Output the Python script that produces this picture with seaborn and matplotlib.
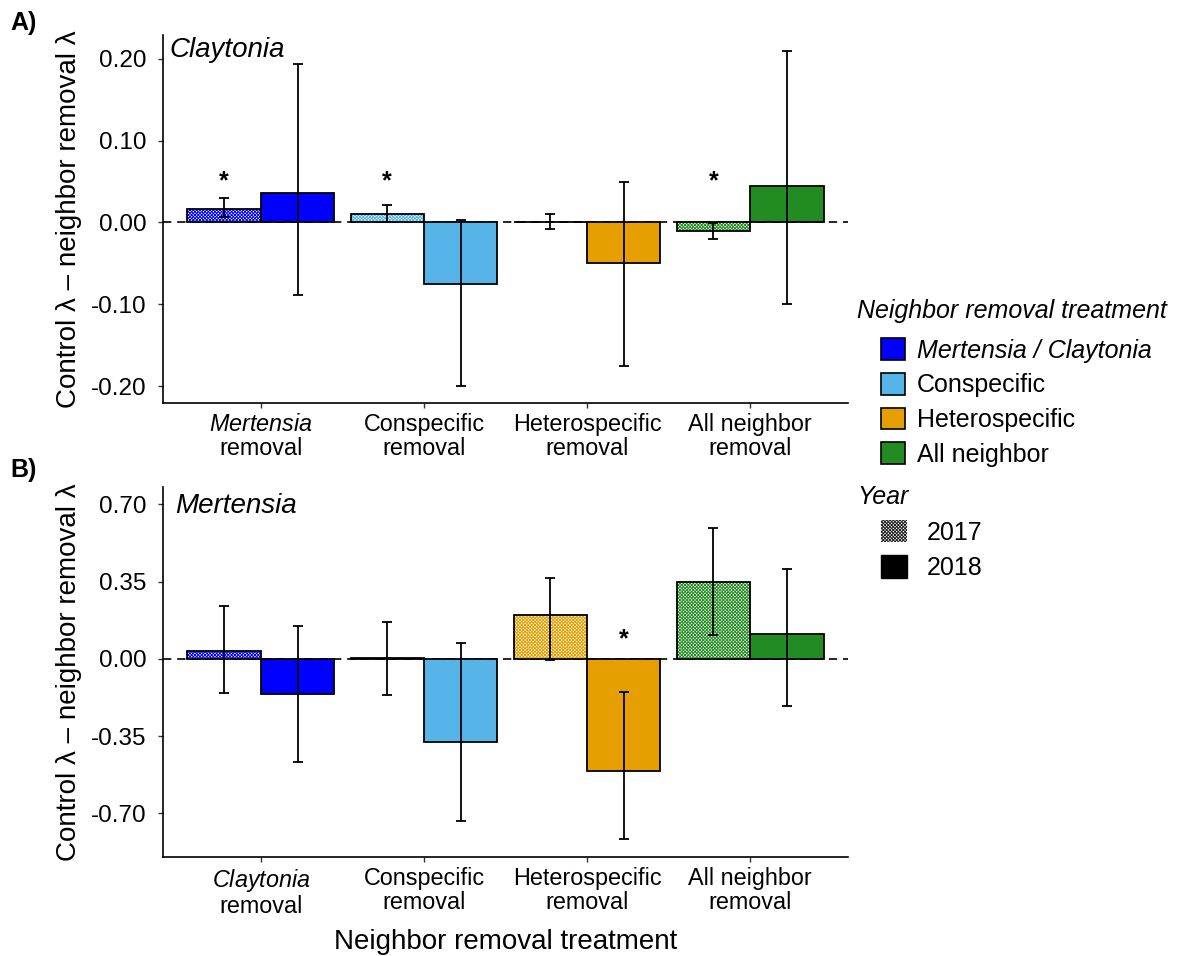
import numpy as np
import pandas as pd
import matplotlib
matplotlib.use("Agg")
import matplotlib.pyplot as plt
from matplotlib.patches import Patch, Rectangle
import seaborn as sns

# ---- data -------------------------------------------------------------
treatments = ["T1", "T2", "T3", "T4"]
years = ["2017", "2018"]
colors = ["#0000FF", "#56B4E9", "#E69F00", "#228B22"]

ticks_A = ["$\\mathit{Mertensia}$\nremoval", "Conspecific\nremoval",
           "Heterospecific\nremoval", "All neighbor\nremoval"]
ticks_B = ["$\\mathit{Claytonia}$\nremoval", "Conspecific\nremoval",
           "Heterospecific\nremoval", "All neighbor\nremoval"]

# Claytonia (panel A)
A_2017 = [0.017, 0.010, 0.001, -0.010]
A_2017_lo = [0.007, 0.001, -0.008, -0.020]
A_2017_hi = [0.030, 0.021, 0.010, -0.001]
A_2018 = [0.036, -0.075, -0.050, 0.045]
A_2018_lo = [-0.088, -0.200, -0.175, -0.099]
A_2018_hi = [0.193, 0.003, 0.049, 0.209]
A_sig_2017 = [True, True, False, True]
A_sig_2018 = [False, False, False, False]
A_star_y = 0.05

# Mertensia (panel B)
B_2017 = [0.036, 0.005, 0.198, 0.347]
B_2017_lo = [-0.155, -0.163, -0.006, 0.106]
B_2017_hi = [0.240, 0.169, 0.367, 0.593]
B_2018 = [-0.157, -0.376, -0.510, 0.112]
B_2018_lo = [-0.468, -0.736, -0.815, -0.213]
B_2018_hi = [0.149, 0.071, -0.149, 0.409]
B_sig_2017 = [False, False, False, False]
B_sig_2018 = [False, False, True, False]
B_star_y = 0.09

yticks_A = [-0.20, -0.10, 0.00, 0.10, 0.20]
yticks_B = [-0.70, -0.35, 0.00, 0.35, 0.70]

# ---- style ------------------------------------------------------------
sns.set_style("white")
plt.rcParams["font.family"] = ["Liberation Sans", "DejaVu Sans"]
plt.rcParams["mathtext.fontset"] = "custom"
plt.rcParams["mathtext.rm"] = "Liberation Sans"
plt.rcParams["mathtext.it"] = "Liberation Sans:italic"
plt.rcParams["hatch.linewidth"] = 0.7
plt.rcParams["text.color"] = "black"
plt.rcParams["axes.labelcolor"] = "black"
plt.rcParams["xtick.color"] = "black"
plt.rcParams["ytick.color"] = "black"

W, H = 1181, 956
fig = plt.figure(figsize=(W / 100, H / 100), dpi=100)


def fx(px):
    return px / W


def fy(py):
    return 1 - py / H


axA = fig.add_axes([fx(163), fy(403), fx(848) - fx(163), fy(35) - fy(403)])
axB = fig.add_axes([fx(163), fy(857), fx(848) - fx(163), fy(487) - fy(857)])

HATCH = "x" * 10


def panel(ax, v17, lo17, hi17, v18, lo18, hi18, sig17, sig18, star_y,
          ticklabels, yticks, ylim, title, title_xy):
    df = pd.DataFrame({
        "treatment": treatments * 2,
        "year": [years[0]] * 4 + [years[1]] * 4,
        "value": list(v17) + list(v18),
    })
    sns.barplot(data=df, x="treatment", y="value", hue="year",
                order=treatments, hue_order=years, errorbar=None,
                width=0.9, gap=0, legend=False, ax=ax, zorder=2)

    ax.axhline(0, color="black", lw=1.2, ls=(0, (5, 3.5)), zorder=1)

    stats = [(v17, lo17, hi17, sig17), (v18, lo18, hi18, sig18)]
    bar_groups = list(ax.containers)
    for k, cont in enumerate(bar_groups):
        vals, lo, hi, sig = stats[k]
        xs = []
        for i, p in enumerate(cont.patches):
            c = colors[i]
            if k == 0:
                # hatched 2017 bars: coloured pattern, black outline on top
                p.set_facecolor("white")
                p.set_edgecolor(c)
                p.set_hatch(HATCH)
                p.set_linewidth(0)
                ax.add_patch(Rectangle((p.get_x(), p.get_y()), p.get_width(),
                                       p.get_height(), fill=False,
                                       ec="black", lw=1.3, zorder=3))
            else:
                p.set_facecolor(c)
                p.set_edgecolor("black")
                p.set_linewidth(1.3)
            xs.append(p.get_x() + p.get_width() / 2)
        xs = np.array(xs)
        vals = np.array(vals)
        yerr = [vals - np.array(lo), np.array(hi) - vals]
        ax.errorbar(xs, vals, yerr=yerr, fmt="none", ecolor="black",
                    elinewidth=1.3, capsize=3.5, capthick=1.3, zorder=4)
        for x, s in zip(xs, sig):
            if s:
                ax.text(x, star_y, "*", ha="center", va="center",
                        fontsize=18, fontweight="bold", zorder=5)

    ax.set_xlim(-0.6, 3.6)
    ax.set_ylim(*ylim)
    ax.set_yticks(yticks)
    ax.set_yticklabels([f"{t:.2f}" for t in yticks], fontsize=17.5)
    ax.set_xticks(range(len(treatments)))
    ax.set_xticklabels(ticklabels, fontsize=16.8)
    for t in ax.get_xticklabels():
        t.set_linespacing(1.05)
    ax.set_xlabel("")
    ax.set_ylabel("Control λ – neighbor removal λ", fontsize=20, labelpad=6)
    for side in ["top", "right"]:
        ax.spines[side].set_visible(False)
    for side in ["left", "bottom"]:
        ax.spines[side].set_color("black")
        ax.spines[side].set_linewidth(1.2)
    ax.tick_params(axis="both", length=3.5, width=1, color="#333333",
                   direction="out", left=True, bottom=True)
    ax.tick_params(axis="y", pad=8.5)
    ax.tick_params(axis="x", pad=4)
    ax.text(title_xy[0], title_xy[1], title, transform=ax.transAxes,
            fontsize=20, fontstyle="italic", ha="left", va="top")


panel(axA, A_2017, A_2017_lo, A_2017_hi, A_2018, A_2018_lo, A_2018_hi,
      A_sig_2017, A_sig_2018, A_star_y, ticks_A, yticks_A,
      (-0.2205, 0.229), "Claytonia", (0.010, 0.995))
panel(axB, B_2017, B_2017_lo, B_2017_hi, B_2018, B_2018_lo, B_2018_hi,
      B_sig_2017, B_sig_2018, B_star_y, ticks_B, yticks_B,
      (-0.898, 0.779), "Mertensia", (0.018, 0.985))

axB.set_xlabel("Neighbor removal treatment", fontsize=20, labelpad=8)

fig.text(fx(10), fy(11), "A)", fontsize=18, fontweight="bold", va="top")
fig.text(fx(10), fy(458), "B)", fontsize=18, fontweight="bold", va="top")

# ---- legends ----------------------------------------------------------
leg_labels = ["Mertensia / Claytonia", "Conspecific", "Heterospecific",
              "All neighbor"]
fig.text(fx(857), fy(311), "Neighbor removal treatment", fontsize=18,
         fontstyle="italic", va="center", ha="left")
h1 = [Patch(facecolor=c, edgecolor="black", lw=1.2) for c in colors]
leg1 = fig.legend(h1, leg_labels, loc="upper left",
                  bbox_to_anchor=(fx(881), fy(338)), frameon=False,
                  fontsize=18, borderpad=0, borderaxespad=0,
                  handlelength=0.95, handleheight=0.97, handletextpad=0.5,
                  labelspacing=0.41)
leg1.get_texts()[0].set_fontstyle("italic")

fig.text(fx(857), fy(497), "Year", fontsize=18, fontstyle="italic",
         va="center", ha="left")
h2 = [Patch(facecolor="white", edgecolor="#222222", hatch=HATCH, lw=0),
      Patch(facecolor="black", edgecolor="black", lw=1)]
leg2 = fig.legend(h2, years, loc="upper left",
                  bbox_to_anchor=(fx(881), fy(520)), frameon=False,
                  fontsize=18, borderpad=0, borderaxespad=0,
                  handlelength=1.05, handleheight=1.0, handletextpad=0.8,
                  labelspacing=0.42)

fig.savefig("out.png", dpi=100)
